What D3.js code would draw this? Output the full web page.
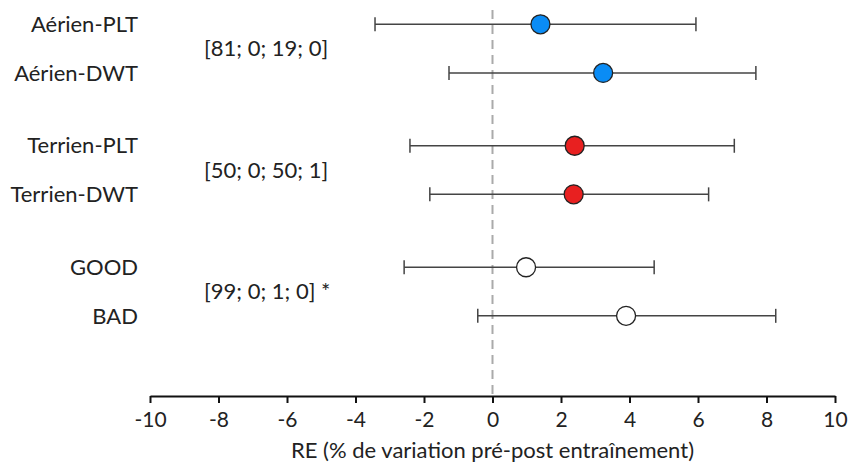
<!DOCTYPE html>
<html>
<head>
<meta charset="utf-8">
<script src="https://cdn.jsdelivr.net/npm/d3@7"></script>
<style>
  body { margin: 0; background: #fff; }
  text { font-family: Lato, "Noto Sans", sans-serif; fill: #222; }
</style>
</head>
<body>
<svg id="forest" width="849" height="463"></svg>
<script>
const svg = d3.select("#forest");

// data
const labels = ["Aérien-PLT", "Aérien-DWT", "Terrien-PLT", "Terrien-DWT", "GOOD", "BAD"];
const groups = [0, 0, 1, 1, 2, 2];
const means = [1.40, 3.23, 2.40, 2.37, 0.98, 3.90];
const lower = [-3.43, -1.27, -2.41, -1.83, -2.58, -0.43];
const upper = [5.94, 7.69, 7.06, 6.31, 4.72, 8.27];
const fills = ["#0a8cf5", "#0a8cf5", "#e82020", "#e82020", "#ffffff", "#ffffff"];
const groupNotes = ["[81; 0; 19; 0]", "[50; 0; 50; 1]", "[99; 0; 1; 0] *"];
const xTicks = [-10, -8, -6, -4, -2, 0, 2, 4, 6, 8, 10];

const x = d3.scaleLinear().domain([-10, 10]).range([150, 835]);
// slot of each row: 5 units per group, 2 units between rows of a group
const slot = (i) => groups[i] * 5 + (i % 2) * 2;
const y = d3.scaleLinear().domain([-1, 15.3]).range([0, 396]);

// reference line at 0
svg.append("line")
    .attr("x1", x(0)).attr("x2", x(0))
    .attr("y1", 10).attr("y2", 396)
    .attr("stroke", "#aaa")
    .attr("stroke-width", 2)
    .attr("stroke-dasharray", "9,6");

// axis
const axis = svg.append("g")
    .attr("transform", "translate(0,396)")
    .call(d3.axisBottom(x).tickValues(xTicks).tickFormat(d => String(d))
        .tickSize(7).tickPadding(9).tickSizeOuter(0));
axis.select(".domain").attr("stroke", "#111").attr("stroke-width", 2.2);
axis.selectAll(".tick line").attr("stroke", "#111").attr("stroke-width", 2);
axis.selectAll(".tick text")
    .attr("font-size", 21)
    .attr("font-family", 'Lato, "Noto Sans", sans-serif')
    .attr("fill", "#222");

svg.append("text")
    .attr("x", x(0))
    .attr("y", 458)
    .attr("text-anchor", "middle")
    .attr("font-size", 22)
    .text("RE (% de variation pré-post entraînement)");

const rows = svg.selectAll(".row")
    .data(labels)
    .enter().append("g")
        .attr("class", "row")
        .attr("transform", (d, i) => `translate(0,${y(slot(i))})`);

rows.append("line")
    .attr("x1", (d, i) => x(lower[i]))
    .attr("x2", (d, i) => x(upper[i]))
    .attr("stroke", "#444")
    .attr("stroke-width", 1.5);

rows.append("line")
    .attr("x1", (d, i) => x(lower[i]))
    .attr("x2", (d, i) => x(lower[i]))
    .attr("y1", -7).attr("y2", 7)
    .attr("stroke", "#444")
    .attr("stroke-width", 1.5);

rows.append("line")
    .attr("x1", (d, i) => x(upper[i]))
    .attr("x2", (d, i) => x(upper[i]))
    .attr("y1", -7).attr("y2", 7)
    .attr("stroke", "#444")
    .attr("stroke-width", 1.5);

rows.append("circle")
    .attr("cx", (d, i) => x(means[i]))
    .attr("r", 9.5)
    .attr("fill", (d, i) => fills[i])
    .attr("stroke", "#222")
    .attr("stroke-width", 1.3);

rows.append("text")
    .attr("x", 138)
    .attr("dy", "0.35em")
    .attr("text-anchor", "end")
    .attr("font-size", 22)
    .text(d => d);

svg.selectAll(".note")
    .data(groupNotes)
    .enter().append("text")
        .attr("class", "note")
        .attr("x", 204)
        .attr("y", (d, g) => y(g * 5 + 1))
        .attr("dy", "0.35em")
        .attr("font-size", 22)
        .text(d => d);
</script>
</body>
</html>
